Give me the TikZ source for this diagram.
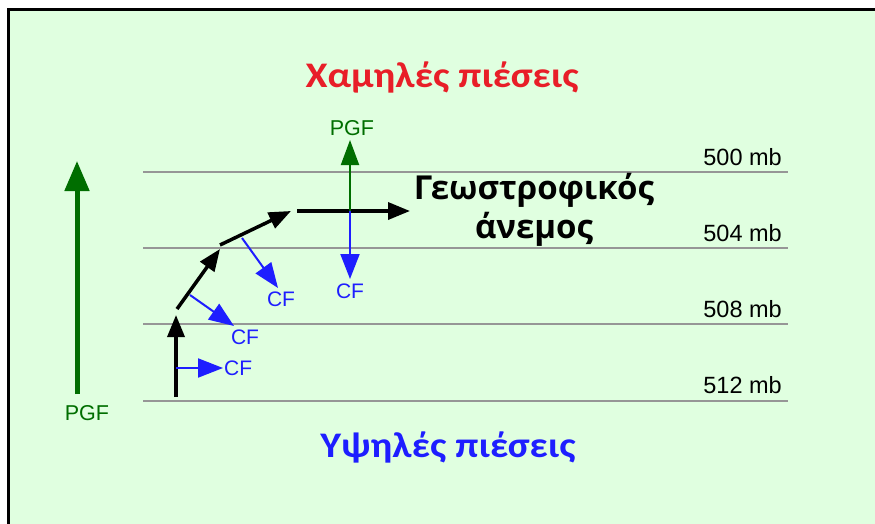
\documentclass[tikz,border=0pt]{standalone}
\usepackage{fontspec}
\setmainfont{Liberation Sans}
\newfontfamily\titlefont{Carlito}
\newfontfamily\windfont{Open Sans}
\usetikzlibrary{arrows.meta}
\definecolor{bggreen}{RGB}{224,255,224}
\definecolor{pgfgreen}{RGB}{0,110,0}
\definecolor{cfblue}{RGB}{30,30,255}
\definecolor{lowred}{RGB}{232,30,40}
\definecolor{isogray}{RGB}{150,150,150}
\begin{document}
\begin{tikzpicture}[x=1pt,y=-1pt,
  isobar/.style={isogray,line width=1.6pt},
  mblabel/.style={anchor=base east,inner sep=0pt,font=\fontsize{23.5}{26}\selectfont},
  windarrow/.style={black,line width=3.5pt,-{Triangle[length=22pt,width=17pt]}},
  cfarrow/.style={cfblue,line width=2pt,-{Triangle[length=25pt,width=19pt]}},
  pgfarrow/.style={pgfgreen,line width=2pt,-{Triangle[length=25pt,width=18pt]}},
  biggreen/.style={pgfgreen,line width=5pt,-{Triangle[length=30pt,width=24pt]}},
  cflabel/.style={cfblue,inner sep=0pt,font=\fontsize{21}{23}\selectfont},
  pgflabel/.style={pgfgreen,inner sep=0pt,font=\fontsize{21.5}{23}\selectfont},
  presslabel/.style={inner sep=0pt,font=\titlefont\bfseries\fontsize{36}{38}\selectfont}]
\useasboundingbox (0,0) rectangle (875,524);
\fill[white] (0,0) rectangle (875,524);
\fill[bggreen] (8,10) rectangle (875,524);
\draw[black,line width=3pt] (8,524) -- (8,10) -- (875,10);
% isobars
\foreach \y/\n in {172/a,248/b,324/c,401/d}{
  \coordinate (L\n) at (143,\y);
  \coordinate (R\n) at (788,\y);
  \draw[isobar] (L\n) -- (R\n);
}
\node[mblabel] (m500) at (782,165) {500 mb};
\node[mblabel] (m504) at (782,241) {504 mb};
\node[mblabel] (m508) at (782,317) {508 mb};
\node[mblabel] (m512) at (782,393) {512 mb};
% titles
\node[presslabel,lowred] (low) at (442,77) {\scalebox{1.11}[1]{Χαμηλές πιέσεις}};
\node[presslabel,cfblue] (high) at (448,447) {\scalebox{1.11}[1]{Υψηλές πιέσεις}};
\node[black,font=\windfont\bfseries\fontsize{33}{39}\selectfont,inner sep=0pt,align=center] (geo) at (534,210) {Γεωστροφικός\\άνεμος};
% big PGF arrow
\coordinate (bg0) at (77,394);
\coordinate (bg1) at (77,161);
\draw[biggreen] (bg0) -- (bg1);
\node[pgflabel] (pgfL) at (87,413) {PGF};
% wind arrows
\coordinate (w0) at (176,397);
\coordinate (w1) at (176,315);
\coordinate (w2) at (177,309);
\coordinate (w3) at (220,249);
\coordinate (w4) at (220,245);
\coordinate (w5) at (291,211);
\coordinate (w6) at (297,211);
\coordinate (w7) at (410,211);
\draw[windarrow] (w0) -- (w1);
\draw[windarrow] (w2) -- (w3);
\draw[windarrow] (w4) -- (w5);
\draw[windarrow] (w6) -- (w7);
% CF arrows
\coordinate (c1a) at (176,368);
\coordinate (c1b) at (223,368);
\draw[cfarrow] (c1a) -- (c1b);
\node[cflabel,anchor=west] (cf1) at (224,368) {CF};
\coordinate (c2a) at (190,295);
\coordinate (c2b) at (234,326);
\draw[cfarrow] (c2a) -- (c2b);
\node[cflabel] (cf2) at (245,337) {CF};
\coordinate (c3a) at (242,238);
\coordinate (c3b) at (278,288);
\draw[cfarrow] (c3a) -- (c3b);
\node[cflabel] (cf3) at (281,299) {CF};
\coordinate (c4a) at (350,211);
\coordinate (c4b) at (350,279);
\draw[cfarrow] (c4a) -- (c4b);
\node[cflabel] (cf4) at (350,291) {CF};
\coordinate (p4b) at (350,140);
\draw[pgfarrow] (c4a) -- (p4b);
\node[pgflabel] (pgf4) at (352,128) {PGF};
\end{tikzpicture}
\end{document}
